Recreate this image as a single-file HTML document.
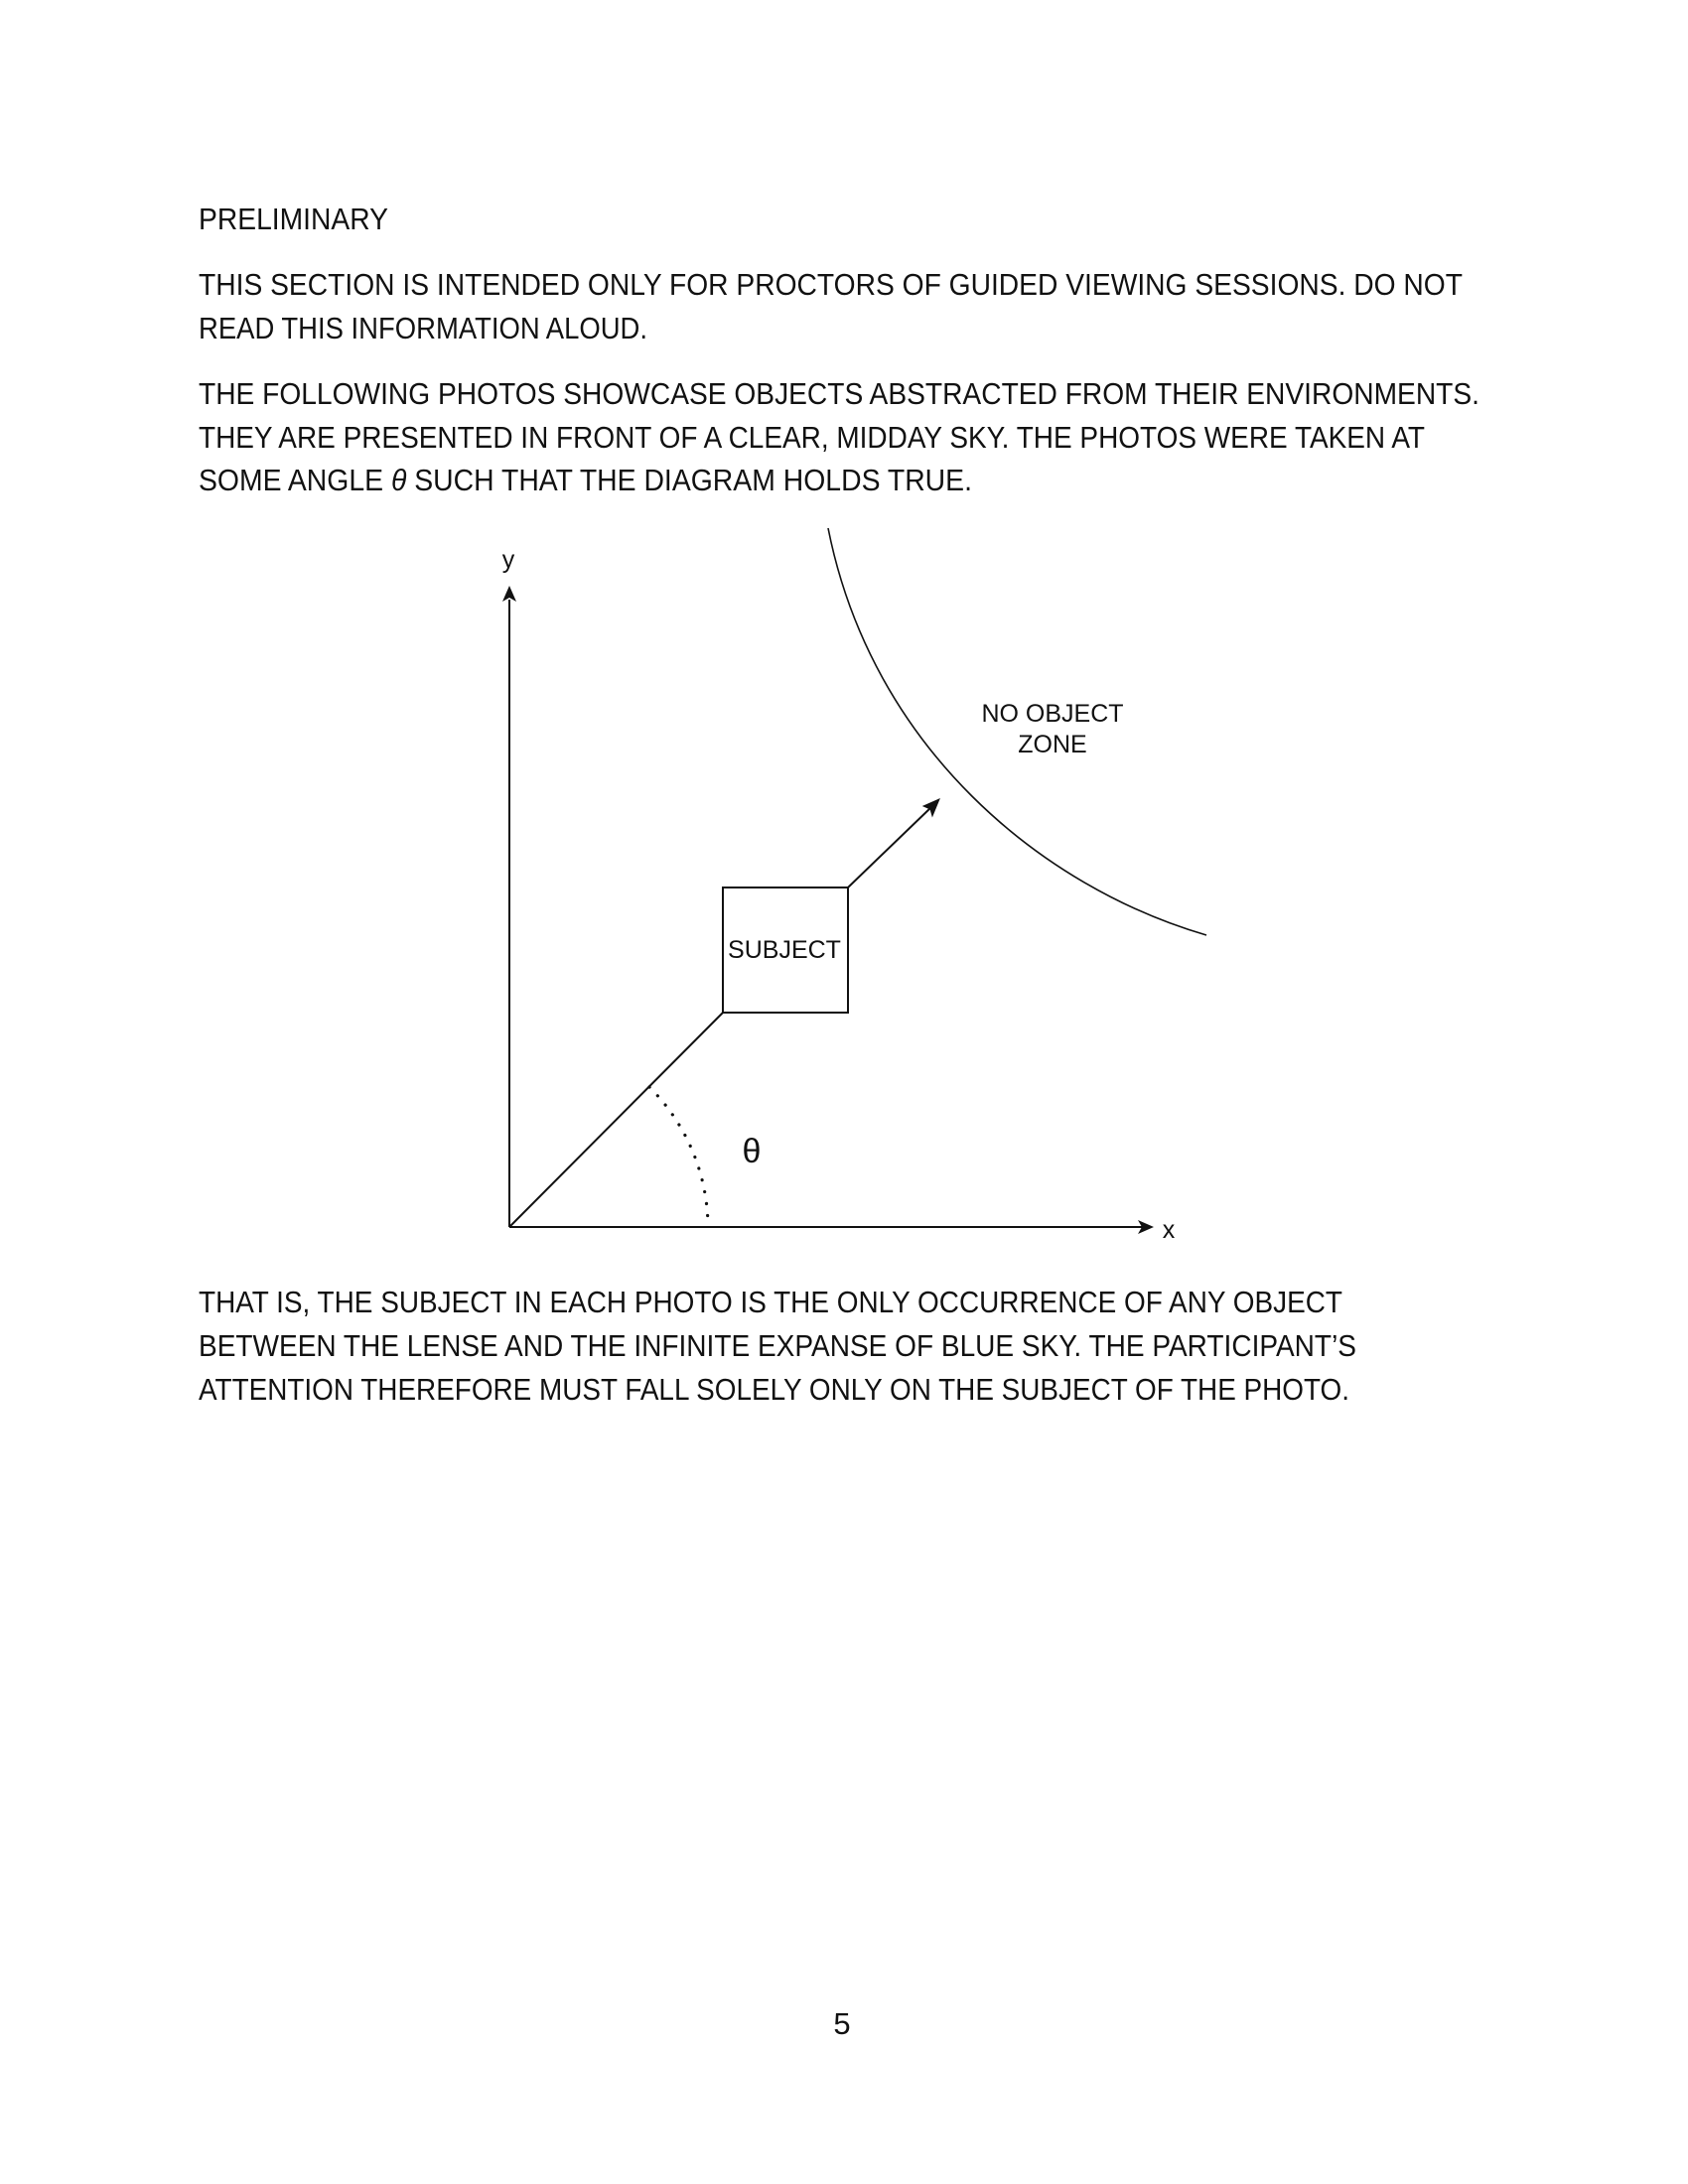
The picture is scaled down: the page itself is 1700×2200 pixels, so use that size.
<!DOCTYPE html>
<html><head><meta charset="utf-8"><style>
html,body{margin:0;padding:0;background:#fff;}
svg{display:block;}
.t{font-family:"Liberation Sans","DejaVu Sans",sans-serif;font-size:31px;fill:#111;}
.d{font-family:"Liberation Sans",sans-serif;fill:#111;}
</style></head><body>
<svg width="1700" height="2200" viewBox="0 0 1700 2200">
<rect width="1700" height="2200" fill="#fff"/>
<g>
<text class="t" x="200" y="231" textLength="191" lengthAdjust="spacingAndGlyphs">PRELIMINARY</text>
<text class="t" x="200" y="297" textLength="1273" lengthAdjust="spacingAndGlyphs">THIS SECTION IS INTENDED ONLY FOR PROCTORS OF GUIDED VIEWING SESSIONS. DO NOT</text>
<text class="t" x="200" y="341" textLength="452" lengthAdjust="spacingAndGlyphs">READ THIS INFORMATION ALOUD.</text>
<text class="t" x="200" y="407" textLength="1290" lengthAdjust="spacingAndGlyphs">THE FOLLOWING PHOTOS SHOWCASE OBJECTS ABSTRACTED FROM THEIR ENVIRONMENTS.</text>
<text class="t" x="200" y="451" textLength="1235" lengthAdjust="spacingAndGlyphs">THEY ARE PRESENTED IN FRONT OF A CLEAR, MIDDAY SKY. THE PHOTOS WERE TAKEN AT</text>
<text class="t" x="200" y="494" textLength="779" lengthAdjust="spacingAndGlyphs">SOME ANGLE <tspan font-style="italic">θ</tspan> SUCH THAT THE DIAGRAM HOLDS TRUE.</text>
</g>
<g transform="translate(0,4)">
<g stroke="#111" fill="none">
<line x1="513" y1="1232" x2="513" y2="600" stroke-width="2"/>
<polygon points="513,586 506,602 513,598 520,602" fill="#111" stroke="none"/>
<line x1="513" y1="1232" x2="1150" y2="1232" stroke-width="2"/>
<polygon points="1162,1232 1146,1225 1150,1232 1146,1239" fill="#111" stroke="none"/>
<line x1="513" y1="1232" x2="728" y2="1016" stroke-width="2"/>
<rect x="728" y="890" width="126" height="126" stroke-width="2"/>
<line x1="854" y1="890" x2="938" y2="809" stroke-width="2"/>
<polygon points="946,801 930,808 937,811 939,818" fill="#111" stroke="#111" stroke-width="1"/>
<path d="M834,528 C878,750 1050,890 1215,938" stroke-width="1.6"/>
<path d="M654,1091 A200,200 0 0 1 713,1232" stroke-width="3.2" stroke-dasharray="0.1 12" stroke-linecap="round"/>
</g>
<text class="d" x="512" y="568" font-size="25" text-anchor="middle">y</text>
<text class="d" x="1177" y="1243" font-size="25" text-anchor="middle">x</text>
<text class="d" x="790" y="961" font-size="25" text-anchor="middle">SUBJECT</text>
<text class="d" x="757" y="1167" font-size="34" text-anchor="middle">θ</text>
<text class="d" x="1060" y="723" font-size="25" text-anchor="middle">NO OBJECT</text>
<text class="d" x="1060" y="754" font-size="25" text-anchor="middle">ZONE</text>
</g>
<g>
<text class="t" x="200" y="1322" textLength="1152" lengthAdjust="spacingAndGlyphs">THAT IS, THE SUBJECT IN EACH PHOTO IS THE ONLY OCCURRENCE OF ANY OBJECT</text>
<text class="t" x="200" y="1366" textLength="1166" lengthAdjust="spacingAndGlyphs">BETWEEN THE LENSE AND THE INFINITE EXPANSE OF BLUE SKY. THE PARTICIPANT’S</text>
<text class="t" x="200" y="1410" textLength="1159" lengthAdjust="spacingAndGlyphs">ATTENTION THEREFORE MUST FALL SOLELY ONLY ON THE SUBJECT OF THE PHOTO.</text>
</g>
<text class="t" x="848" y="2049" text-anchor="middle">5</text>
</svg>
</body></html>
